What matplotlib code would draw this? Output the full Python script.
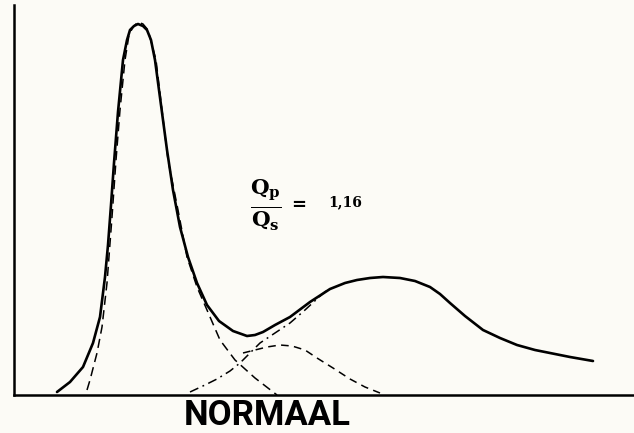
import matplotlib.pyplot as plt

# curves (x, y in plot units, origin at the axes corner)
total_x = [43, 56, 69, 79, 86, 91, 94, 97, 100, 104, 109, 113, 116, 120, 124, 129, 133, 137, 141,
           147, 153, 159, 166, 174, 183, 193, 205, 219, 233, 241, 249, 261, 276, 296, 316, 331, 343,
           356, 369, 386, 401, 416, 426, 436, 451, 469, 486, 503, 521, 536, 556, 579]
total_y = [3, 13, 28, 52, 78, 118, 150, 190, 232, 283, 335, 355, 365, 369, 371, 369, 365, 355, 335,
           290, 245, 205, 168, 138, 112, 90, 74, 64, 59, 60, 63, 70, 78, 93, 106, 112, 115,
           117, 118, 117, 114, 108, 101, 92, 79, 65, 57, 50, 45, 42, 38, 34]

peak1_x = [73, 76, 83, 88, 93, 98, 102, 106, 111, 115, 119, 124, 129, 134, 138, 142, 148, 154,
           164, 173, 183, 193, 206, 221, 241, 263]
peak1_y = [5, 15, 42, 68, 112, 178, 235, 285, 335, 360, 368, 373, 371, 365, 350, 335, 285, 235,
           185, 138, 108, 85, 55, 35, 17, 0]

peak2_x = [229, 241, 253, 266, 278, 291, 303, 319, 336, 351, 366]
peak2_y = [42, 45, 48, 50, 49, 45, 37, 27, 16, 8, 2]

rise_x = [176, 191, 203, 216, 226, 236, 246, 261, 276, 291, 304, 313]
rise_y = [3, 10, 16, 24, 32, 42, 52, 62, 72, 85, 97, 105]

ratio_label = "1,16"
title = "NORMAAL"

bg = "#fcfbf6"
fig = plt.figure(figsize=(6.34, 4.33), dpi=100, facecolor=bg)
ax = fig.add_axes([14 / 634, 38 / 433, 620 / 634, 390 / 433], facecolor=bg)

ax.plot(total_x, total_y, color="black", lw=1.9, solid_capstyle="round", solid_joinstyle="round")
ax.plot(peak1_x, peak1_y, color="black", lw=1.1, dashes=(6, 3.5))
ax.plot(peak2_x, peak2_y, color="black", lw=1.1, dashes=(5, 3.5))
ax.plot(rise_x, rise_y, color="black", lw=1.1, dashes=(6, 3, 1.2, 3))

ax.set_xlim(0, 620)
ax.set_ylim(0, 390)
ax.set_xticks([])
ax.set_yticks([])
for side in ["top", "right"]:
    ax.spines[side].set_visible(False)
ax.spines["left"].set_linewidth(1.8)
ax.spines["bottom"].set_linewidth(1.8)

plt.rcParams["mathtext.fontset"] = "dejavuserif"
ax.text(252, 190, r"$\mathbf{\frac{Q_p}{Q_s}}$", fontsize=22, ha="center", va="center")
ax.text(285, 190, "=", fontsize=13, fontweight="bold", family="DejaVu Serif",
        ha="center", va="center")
ax.text(314, 193, ratio_label, fontsize=10, fontweight="bold", family="DejaVu Serif",
        ha="left", va="center")

fig.text(267 / 634, 1 - 425 / 433, title, fontsize=25, fontweight="bold",
         family=["Roboto", "DejaVu Sans"], ha="center", va="baseline")

fig.savefig("out.png", dpi=100, facecolor=bg)
